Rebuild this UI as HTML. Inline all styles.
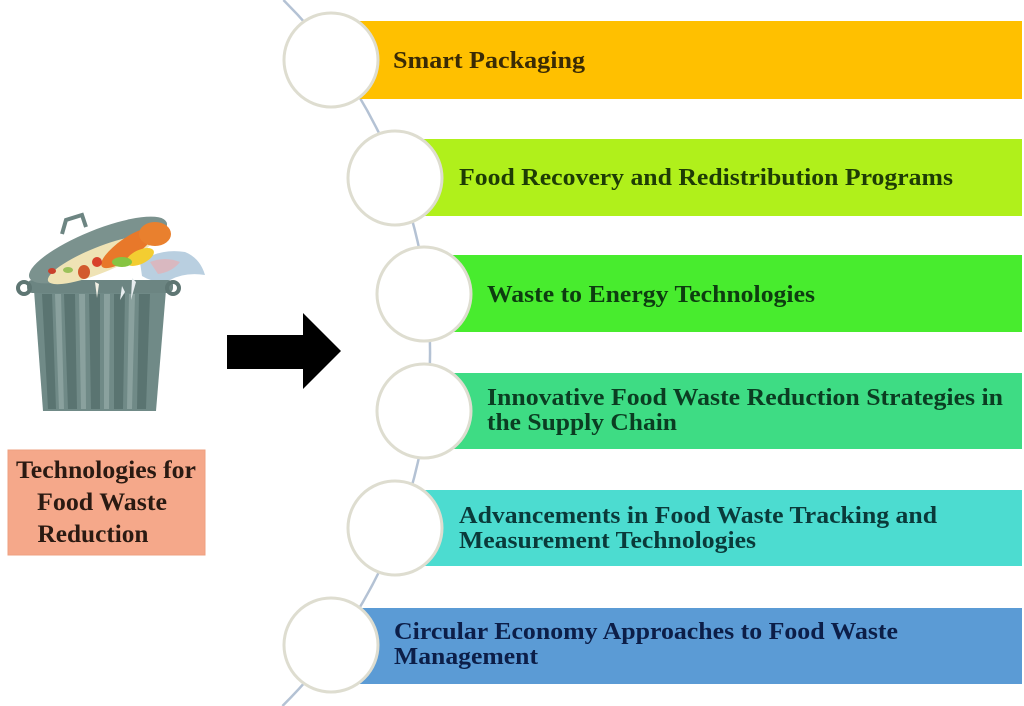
<!DOCTYPE html>
<html>
<head>
<meta charset="utf-8">
<style>
  html, body { margin:0; padding:0; background:#ffffff; width:1024px; height:706px; overflow:hidden; }
  svg { display:block; }
  .t { font-family:"Liberation Serif", "DejaVu Serif", serif; font-weight:bold; font-size:24px; }
  .b { font-family:"Liberation Serif", "DejaVu Serif", serif; font-weight:bold; font-size:25px; }
</style>
</head>
<body>
<svg width="1024" height="706" viewBox="0 0 1024 706" xmlns="http://www.w3.org/2000/svg">
  <rect x="0" y="0" width="1024" height="706" fill="#ffffff"/>

  <!-- connecting arc -->
  <path d="M283.4,0 A497,497 0 0 1 282.4,706" fill="none" stroke="#b4c2d4" stroke-width="2.5"/>

  <!-- bars -->
  <rect x="331" y="21" width="691" height="78" fill="#FFC000"/>
  <rect x="395" y="139" width="627" height="77" fill="#B0F01B"/>
  <rect x="423" y="255" width="599" height="77" fill="#48EC2E"/>
  <rect x="423" y="373" width="599" height="76" fill="#3EDC84"/>
  <rect x="395" y="490" width="627" height="76" fill="#4CDCD0"/>
  <rect x="331" y="608" width="691" height="76" fill="#5B9BD5"/>

  <!-- circles -->
  <g fill="#ffffff" stroke="#deddd0" stroke-width="3">
    <circle cx="331" cy="60" r="47"/>
    <circle cx="395" cy="178" r="47"/>
    <circle cx="424" cy="294" r="47"/>
    <circle cx="424" cy="411" r="47"/>
    <circle cx="395" cy="528" r="47"/>
    <circle cx="331" cy="645" r="47"/>
  </g>

  <!-- bar labels -->
  <text class="t" x="393" y="68" fill="#3a2b05" textLength="192" lengthAdjust="spacingAndGlyphs">Smart Packaging</text>
  <text class="t" x="459" y="185" fill="#1e3c05" textLength="494" lengthAdjust="spacingAndGlyphs">Food Recovery and Redistribution Programs</text>
  <text class="t" x="487" y="302" fill="#0d3d10" textLength="328" lengthAdjust="spacingAndGlyphs">Waste to Energy Technologies</text>
  <text class="t" x="487" y="405" fill="#0b3d22" textLength="516" lengthAdjust="spacingAndGlyphs">Innovative Food Waste Reduction Strategies in</text>
  <text class="t" x="487" y="430" fill="#0b3d22" textLength="190" lengthAdjust="spacingAndGlyphs">the Supply Chain</text>
  <text class="t" x="459" y="523" fill="#0a3a3a" textLength="478" lengthAdjust="spacingAndGlyphs">Advancements in Food Waste Tracking and</text>
  <text class="t" x="459" y="548" fill="#0a3a3a" textLength="297" lengthAdjust="spacingAndGlyphs">Measurement Technologies</text>
  <text class="t" x="394" y="639" fill="#0c1e48" textLength="504" lengthAdjust="spacingAndGlyphs">Circular Economy Approaches to Food Waste</text>
  <text class="t" x="394" y="664" fill="#0c1e48" textLength="144" lengthAdjust="spacingAndGlyphs">Management</text>

  <!-- arrow -->
  <polygon points="227,335 303,335 303,313 341,351 303,389 303,369 227,369" fill="#000000"/>

  <!-- left box -->
  <rect x="8" y="450" width="197" height="105" fill="#F5A88A" stroke="#eea080" stroke-width="1"/>
  <text class="b" x="106" y="478" text-anchor="middle" fill="#2a1a12" textLength="180" lengthAdjust="spacingAndGlyphs">Technologies for</text>
  <text class="b" x="102" y="510" text-anchor="middle" fill="#2a1a12" textLength="130" lengthAdjust="spacingAndGlyphs">Food Waste</text>
  <text class="b" x="93" y="542" text-anchor="middle" fill="#2a1a12" textLength="111" lengthAdjust="spacingAndGlyphs">Reduction</text>

  <!-- trash can -->
  <g>
    <!-- bag -->
    <path d="M140,262 Q160,248 185,252 Q200,258 205,275 Q185,272 170,280 Q155,284 142,276 Z" fill="#b9cfe0"/>
    <path d="M150,262 Q165,256 180,262 Q172,272 158,274 Z" fill="#d9b8c0"/>
    <!-- body -->
    <polygon points="34,290 166,290 156,411 43,411" fill="#708a87"/>
    <g fill="#5a7471">
      <polygon points="42,294 52,294 56,409 48,409"/>
      <polygon points="64,294 75,294 77,409 68,409"/>
      <polygon points="89,294 100,294 100,409 91,409"/>
      <polygon points="114,294 125,294 123,409 114,409"/>
      <polygon points="139,294 150,294 146,409 137,409"/>
    </g>
    <g fill="#8aa19e">
      <polygon points="55,294 61,294 64,409 59,409"/>
      <polygon points="79,294 85,294 86,409 81,409"/>
      <polygon points="104,294 110,294 109,409 104,409"/>
      <polygon points="129,294 135,294 132,409 127,409"/>
    </g>
    <!-- rim -->
    <rect x="27" y="280" width="146" height="13" rx="5" fill="#6c8582"/>
    <circle cx="24" cy="288" r="6" fill="none" stroke="#5e7673" stroke-width="4"/>
    <circle cx="173" cy="288" r="6" fill="none" stroke="#5e7673" stroke-width="4"/>
    <!-- lid -->
    <ellipse cx="98" cy="250" rx="74" ry="20" transform="rotate(-22 98 250)" fill="#7b928e"/>
    <path d="M62,234 L66,220 L82,215 L86,227" fill="none" stroke="#6d8582" stroke-width="4"/>
    <!-- food -->
    <ellipse cx="100" cy="260" rx="56" ry="13" transform="rotate(-22 100 260)" fill="#efe3b5"/>
    <ellipse cx="128" cy="248" rx="32" ry="10" transform="rotate(-35 128 248)" fill="#e8782a"/>
    <ellipse cx="155" cy="234" rx="16" ry="12" fill="#e9802e"/>
    <ellipse cx="140" cy="257" rx="15" ry="7" transform="rotate(-25 140 257)" fill="#f3cd31"/>
    <ellipse cx="122" cy="262" rx="10" ry="5" fill="#86c442"/>
    <ellipse cx="97" cy="262" rx="5" ry="5" fill="#d8412b"/>
    <ellipse cx="84" cy="272" rx="6" ry="7" fill="#d25a2e"/>
    <ellipse cx="68" cy="270" rx="5" ry="3" fill="#9bc25a"/>
    <ellipse cx="52" cy="271" rx="4" ry="3" fill="#c9402c"/>
    <path d="M95,282 L97,298 L99,284 Z" fill="#f2f0e4"/>
    <path d="M132,278 L131,300 L136,282 Z" fill="#e8eef0"/>
    <path d="M122,286 L120,300 L125,292 Z" fill="#e8eef0"/>
  </g>
</svg>
</body>
</html>
